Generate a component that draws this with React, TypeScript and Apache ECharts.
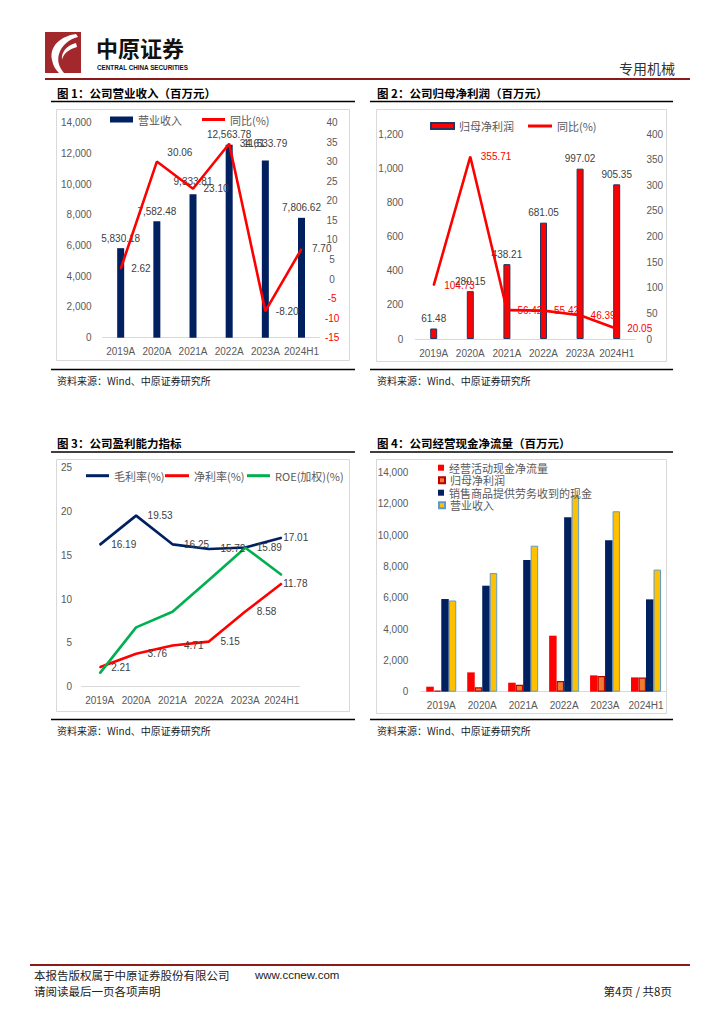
import React, { useEffect, useRef } from "react";
import * as echarts from "echarts";

// ---------- data ----------
const years = ["2019A", "2020A", "2021A", "2022A", "2023A", "2024H1"];
const revenue = [5830.18, 7582.48, 9333.81, 12563.78, 11533.79, 7806.62];
const revenueYoY = [2.62, 30.06, 23.1, 34.61, -8.2, 7.7];
const netProfit = [61.48, 280.15, 438.21, 681.05, 997.02, 905.35];
const netProfitYoY = [104.73, 355.71, 56.42, 55.42, 46.39, 20.05];
const grossMargin = [16.19, 19.53, 16.25, 15.72, 15.89, 17.01];
const netMargin = [2.21, 3.76, 4.71, 5.15, 8.58, 11.78];
const roe = [1.52, 6.77, 8.56, 12.18, 15.87, 12.75];
const opCashFlow = [320, 1236, 575, 3580, 1044, 916];
const salesCash = [5924, 6776, 8417, 11145, 9674, 5903];

const FONT = '"Liberation Sans", "Noto Sans CJK SC", sans-serif';
const CJK = '"Noto Sans CJK SC", "Liberation Sans", sans-serif';
const NAVY = "#002060";
const RED = "#FF0000";
const GREEN = "#00B050";
const GOLD = "#FFC000";
const ORANGE = "#ED7D31";
const AX = "#595959";
const LBL = "#404040";

const fmt2 = (v: number) =>
  Number(v).toLocaleString("en-US", { minimumFractionDigits: 2, maximumFractionDigits: 2 });
const fmtInt = (v: number) => Number(v).toLocaleString("en-US");

const LOGO_D =
  "M31 2 C16 4 4 14 7 28 C8 34 11 38 14 41 L19 41 C14 35 12 29 14 22 C17 13 24 7 33 5 Z " +
  "M31 11 C22 13 16 20 17 28 C18 22 24 17 32 15 Z";

let registered = false;
function registerLogo() {
  if (registered) return;
  registered = true;
  echarts.graphic.registerShape("zylogo", echarts.graphic.extendPath(LOGO_D, {}) as any);
}

function legend(name: string, left: number, cy: number, w: number, h: number, lh: number = 14) {
  return {
    show: true,
    data: [name],
    left,
    top: cy - lh / 2,
    orient: "horizontal",
    icon: "rect",
    itemWidth: w,
    itemHeight: h,
    padding: 0,
    selectedMode: false,
    formatter: (n: string) => n.split("#")[0],
    textStyle: { fontSize: 11, color: AX, fontFamily: CJK, lineHeight: lh },
  };
}

function xCat(gridIndex: number, margin: number) {
  return {
    type: "category",
    gridIndex,
    data: years,
    boundaryGap: true,
    axisLine: { show: true, lineStyle: { color: "#D9D9D9", width: 1 } },
    axisTick: { show: false },
    axisLabel: { color: AX, fontSize: 10, margin, fontFamily: FONT, interval: 0 },
  };
}

function yVal(gridIndex: number, min: number, max: number, interval: number, extra: any = {}) {
  return {
    type: "value",
    gridIndex,
    min,
    max,
    interval,
    splitLine: { show: false },
    axisLine: { show: false },
    axisTick: { show: false },
    ...extra,
    axisLabel: {
      color: AX,
      fontSize: 10,
      fontFamily: FONT,
      formatter: (v: number) => fmtInt(v),
      ...(extra.axisLabel || {}),
    },
  };
}

function txt(text: string, x: number, y: number, size: number, opts: any = {}) {
  const align = opts.align || "left";
  return {
    type: "text",
    x,
    y,
    silent: true,
    style: {
      text,
      fill: opts.color || "#000",
      fontSize: size,
      fontFamily: opts.family || CJK,
      fontWeight: opts.weight || "normal",
      align,
      textAlign: align,
      verticalAlign: "middle",
      textVerticalAlign: "middle",
    },
  };
}

function hline(x1: number, x2: number, y: number, color: string, w: number) {
  return { type: "line", silent: true, shape: { x1, y1: y, x2, y2: y }, style: { stroke: color, lineWidth: w } };
}

function box(x: number, y: number, w: number, h: number) {
  return {
    type: "rect",
    silent: true,
    shape: { x, y, width: w, height: h },
    style: { fill: "none", stroke: "#D9D9D9", lineWidth: 1 },
  };
}

function buildOption() {
  const lineLabel = (color: string) => ({
    show: true,
    position: "right",
    distance: 10,
    color,
    fontSize: 10,
    fontFamily: FONT,
    formatter: (p: any) => fmt2(p.value),
  });

  const graphic: any[] = [
    // header
    { type: "rect", silent: true, shape: { x: 45, y: 32, width: 36, height: 41 }, style: { fill: "#A3282B" } },
    { type: "zylogo", silent: true, x: 45, y: 32, style: { fill: "#FFFFFF" } },
    txt("中原证券", 96, 47, 22, { weight: "bold", color: "#111" }),
    txt("CENTRAL CHINA SECURITIES", 97, 67.5, 6.3, { weight: "bold", family: FONT, color: "#111" }),
    txt("专用机械", 675, 68, 14, { align: "right", color: "#333" }),
    hline(45, 690, 79, "#8B1A1A", 2),

    // chart frames
    hline(51, 355, 101.5, "#000", 1.6),
    hline(51, 355, 369.5, "#000", 1.6),
    hline(370, 673, 101.5, "#000", 1.6),
    hline(370, 673, 369.5, "#000", 1.6),
    hline(51, 355, 452, "#000", 1.6),
    hline(51, 355, 719.5, "#000", 1.6),
    hline(370, 673, 452, "#000", 1.6),
    hline(370, 673, 719.5, "#000", 1.6),
    box(56.5, 109.5, 293, 251),
    box(376.5, 109.5, 290, 252),
    box(56.5, 459.5, 293, 252),
    box(376.5, 459.5, 290, 254),

    // titles
    txt("图 1：公司营业收入（百万元）", 57, 93, 11.5, { weight: "bold" }),
    txt("图 2：公司归母净利润（百万元）", 377, 93, 11.5, { weight: "bold" }),
    txt("图 3：公司盈利能力指标", 57, 443, 11.5, { weight: "bold" }),
    txt("图 4：公司经营现金净流量（百万元）", 377, 443, 11.5, { weight: "bold" }),

    // sources
    txt("资料来源：Wind、中原证券研究所", 57, 380, 10, { color: "#222" }),
    txt("资料来源：Wind、中原证券研究所", 377, 380, 10, { color: "#222" }),
    txt("资料来源：Wind、中原证券研究所", 57, 730, 10, { color: "#222" }),
    txt("资料来源：Wind、中原证券研究所", 377, 730, 10, { color: "#222" }),

    // footer
    hline(30, 690, 965, "#8B1A1A", 2),
    txt("本报告版权属于中原证券股份有限公司", 34, 975, 11.5, { color: "#222" }),
    txt("www.ccnew.com", 255, 975, 11.5, { family: FONT, color: "#222" }),
    txt("请阅读最后一页各项声明", 34, 991, 11.5, { color: "#222" }),
    txt("第4页 / 共8页", 672, 991, 11.5, { align: "right", color: "#222" }),
  ];

  return {
    animation: false,
    backgroundColor: "#FFFFFF",
    graphic,
    legend: [
      legend("营业收入#1", 110, 119.5, 23, 6),
      legend("同比(%)#1", 202, 119.5, 23, 3),
      legend("归母净利润#2", 430, 126, 23, 6),
      legend("同比(%)#2", 528, 126, 24, 3),
      legend("毛利率(%)", 86, 475.7, 23, 3),
      legend("净利率(%)", 165, 475.7, 24, 3),
      legend("ROE(加权)(%)", 247, 475.7, 23, 3),
      legend("经营活动现金净流量", 438, 467.7, 6, 6, 12),
      legend("归母净利润#4", 438, 480.2, 6, 6, 12),
      legend("销售商品提供劳务收到的现金", 438, 492.7, 6, 6, 12),
      legend("营业收入#4", 438, 505.2, 6, 6, 12),
    ],
    grid: [
      { left: 102.6, top: 122.7, width: 217, height: 215 },
      { left: 415.4, top: 134, width: 219.6, height: 205 },
      { left: 81.5, top: 467.7, width: 218.4, height: 219 },
      { left: 420.8, top: 472.7, width: 245.7, height: 219 },
    ],
    xAxis: [xCat(0, 9), xCat(1, 9), xCat(2, 9), xCat(3, 9)],
    yAxis: [
      yVal(0, 0, 14000, 2000, { axisLabel: { margin: 11 } }),
      yVal(0, -15, 40, 5, {
        position: "right",
        axisLabel: {
          margin: 12.5,
          align: "center",
          color: (v: any) => (Number(v) < 0 ? RED : AX),
          formatter: (v: number) => String(v),
        },
      }),
      yVal(1, 0, 1200, 200, { axisLabel: { margin: 12 } }),
      yVal(1, 0, 400, 50, { position: "right", axisLabel: { margin: 11.5, align: "left", formatter: (v: number) => String(v) } }),
      yVal(2, 0, 25, 5, { axisLabel: { margin: 9.5, formatter: (v: number) => String(v) } }),
      yVal(3, 0, 14000, 2000, { axisLabel: { margin: 12.5 } }),
    ],
    series: [
      // chart 1
      {
        name: "营业收入#1",
        type: "bar",
        xAxisIndex: 0,
        yAxisIndex: 0,
        barWidth: 7,
        itemStyle: { color: NAVY },
        label: {
          show: true,
          position: "top",
          distance: 5,
          color: LBL,
          fontSize: 10,
          fontFamily: FONT,
          formatter: (p: any) => fmt2(p.value),
        },
        data: revenue.map((v, i) =>
          i === 2 ? { value: v, label: { offset: [0, -3] } } : i === 4 ? { value: v, label: { offset: [0, -7] } } : v
        ),
      },
      {
        name: "同比(%)#1",
        type: "line",
        xAxisIndex: 0,
        yAxisIndex: 1,
        symbol: "circle",
        symbolSize: 1,
        itemStyle: { color: RED },
        lineStyle: { color: RED, width: 2.6 },
        label: lineLabel(LBL),
        data: revenueYoY.map((v, i) => (i === 1 ? { value: v, label: { offset: [0, -9] } } : v)),
      },
      // chart 2
      {
        name: "归母净利润#2",
        type: "bar",
        xAxisIndex: 1,
        yAxisIndex: 2,
        barWidth: 7,
        itemStyle: { color: RED, borderColor: "#1F3864", borderWidth: 1 },
        label: {
          show: true,
          position: "top",
          distance: 5,
          color: LBL,
          fontSize: 10,
          fontFamily: FONT,
          formatter: (p: any) => fmt2(p.value),
        },
        data: netProfit,
      },
      {
        name: "同比(%)#2",
        type: "line",
        xAxisIndex: 1,
        yAxisIndex: 3,
        symbol: "circle",
        symbolSize: 1,
        itemStyle: { color: RED },
        lineStyle: { color: RED, width: 2.6 },
        label: lineLabel(RED),
        data: netProfitYoY,
      },
      // chart 3
      {
        name: "毛利率(%)",
        type: "line",
        xAxisIndex: 2,
        yAxisIndex: 4,
        symbol: "circle",
        symbolSize: 1,
        itemStyle: { color: NAVY },
        lineStyle: { color: NAVY, width: 2.6 },
        label: { ...lineLabel(LBL), distance: 11 },
        data: grossMargin.map((v, i) => (i === 5 ? { value: v, label: { offset: [-10, 0] } } : v)),
      },
      {
        name: "净利率(%)",
        type: "line",
        xAxisIndex: 2,
        yAxisIndex: 4,
        symbol: "circle",
        symbolSize: 1,
        itemStyle: { color: RED },
        lineStyle: { color: RED, width: 2.6 },
        label: { ...lineLabel(LBL), distance: 11 },
        data: netMargin.map((v, i) => (i === 5 ? { value: v, label: { offset: [-10, 0] } } : v)),
      },
      {
        name: "ROE(加权)(%)",
        type: "line",
        xAxisIndex: 2,
        yAxisIndex: 4,
        symbol: "circle",
        symbolSize: 1,
        itemStyle: { color: GREEN },
        lineStyle: { color: GREEN, width: 2.6 },
        data: roe,
      },
      // chart 4
      {
        name: "经营活动现金净流量",
        type: "bar",
        xAxisIndex: 3,
        yAxisIndex: 5,
        barWidth: 7.5,
        barGap: "0%",
        itemStyle: { color: RED },
        data: opCashFlow,
      },
      {
        name: "归母净利润#4",
        type: "bar",
        xAxisIndex: 3,
        yAxisIndex: 5,
        barWidth: 7.5,
        barGap: "0%",
        itemStyle: { color: ORANGE, borderColor: "#C00000", borderWidth: 1.2 },
        data: netProfit,
      },
      {
        name: "销售商品提供劳务收到的现金",
        type: "bar",
        xAxisIndex: 3,
        yAxisIndex: 5,
        barWidth: 7.5,
        barGap: "0%",
        itemStyle: { color: NAVY },
        data: salesCash,
      },
      {
        name: "营业收入#4",
        type: "bar",
        xAxisIndex: 3,
        yAxisIndex: 5,
        barWidth: 7.5,
        barGap: "0%",
        itemStyle: { color: GOLD, borderColor: "#5B9BD5", borderWidth: 1 },
        data: revenue,
      },
    ],
  };
}

export default function App() {
  const ref = useRef<HTMLDivElement>(null);
  useEffect(() => {
    if (!ref.current) return;
    registerLogo();
    const chart = echarts.init(ref.current, null, { renderer: "svg" });
    chart.setOption(buildOption() as any);
    return () => chart.dispose();
  }, []);
  return (
    <div
      ref={ref}
      style={{ position: "absolute", left: 0, top: 0, width: 724, height: 1024, background: "#fff" }}
    />
  );
}
